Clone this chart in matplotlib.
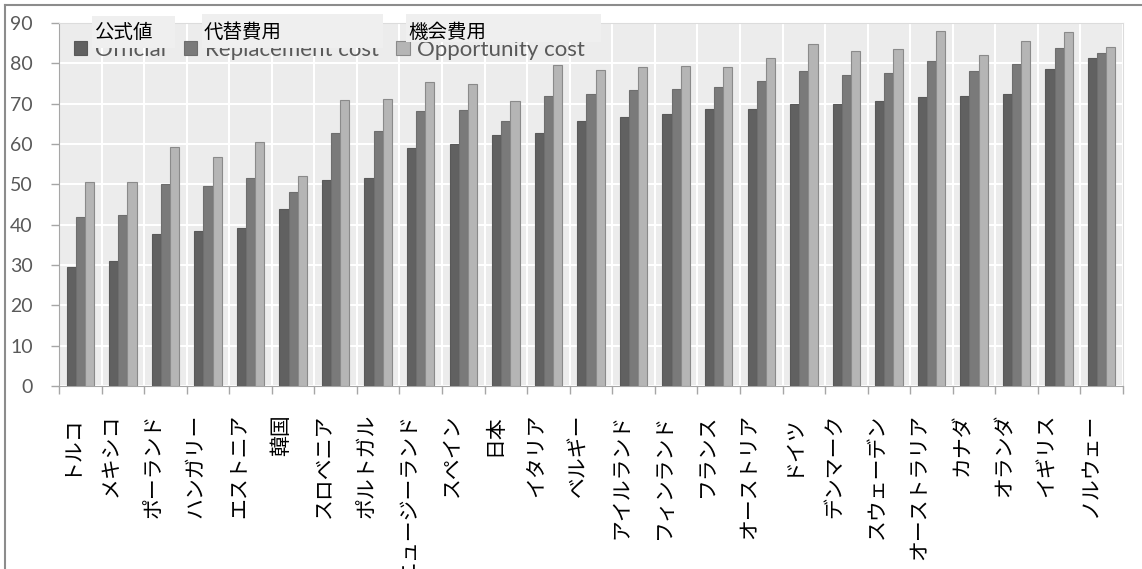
import numpy as np
import matplotlib.pyplot as plt
import matplotlib.transforms as mtransforms
from matplotlib.patches import Rectangle
from matplotlib.lines import Line2D

countries = ['トルコ', 'メキシコ', 'ポーランド', 'ハンガリー', 'エストニア', '韓国',
             'スロベニア', 'ポルトガル', 'ニュージーランド', 'スペイン', '日本', 'イタリア',
             'ベルギー', 'アイルランド', 'フィンランド', 'フランス', 'オーストリア', 'ドイツ',
             'デンマーク', 'スウェーデン', 'オーストラリア', 'カナダ', 'オランダ', 'イギリス',
             'ノルウェー']
official = [29.5, 31.1, 37.7, 38.4, 39.2, 43.8, 51.0, 51.5, 59.1, 60.1, 62.2, 62.8,
            65.8, 66.7, 67.4, 68.8, 68.8, 70.0, 70.0, 70.7, 71.7, 71.9, 72.5, 78.7, 81.2]
replacement = [41.9, 42.5, 50.1, 49.7, 51.5, 48.2, 62.8, 63.2, 68.2, 68.5, 65.8, 72.0,
               72.4, 73.4, 73.7, 74.1, 75.5, 78.2, 77.0, 77.6, 80.6, 78.0, 79.8, 83.8, 82.5]
opportunity = [50.6, 50.6, 59.2, 56.7, 60.4, 52.1, 70.8, 71.1, 75.4, 74.8, 70.7, 79.6,
               78.4, 79.0, 79.3, 79.0, 81.4, 84.7, 83.0, 83.5, 88.0, 82.1, 85.6, 87.7, 84.1]
series_en = ['Official', 'Replacement cost', 'Opportunity cost']
series_ja = ['公式値', '代替費用', '機会費用']

colors = ['#616161', '#7a7a7a', '#b5b5b5']
edges = ['#595959', '#6e6e6e', '#8a8a8a']

W, H = 1142, 569
fig = plt.figure(figsize=(W / 100, H / 100), dpi=100)

def fx(px):
    return px / W

def fy(py):
    return 1 - py / H

ax = fig.add_axes([fx(59), fy(386), fx(1123) - fx(59), fy(23) - fy(386)])
ax.set_facecolor('#ececec')

x = np.arange(len(countries))
w = 0.215
for k, vals in enumerate([official, replacement, opportunity]):
    ax.bar(x + (k - 1) * w, vals, width=w, color=colors[k], edgecolor=edges[k],
           linewidth=0.8, label=series_en[k], zorder=3)

ax.set_xlim(-0.5, len(countries) - 0.5)
ax.set_ylim(0, 90)
ax.set_yticks(np.arange(0, 91, 10))
ax.set_xticks(x)
ax.set_xticklabels(countries, rotation=90, fontsize=15, family=['Noto Sans CJK JP'])
ax.set_xticks(np.arange(-0.5, len(countries)), minor=True)
ax.tick_params(axis='x', which='major', length=0, pad=20)
ax.tick_params(axis='x', which='minor', length=6, color='#a6a6a6', width=1)
ax.tick_params(axis='y', length=6, color='#a6a6a6', width=1, labelsize=14,
               labelcolor='#595959', pad=13)
for lbl in ax.get_yticklabels():
    lbl.set_family('Lato')

# labels sit a little left of the group centre
offset = mtransforms.ScaledTranslation(-0.12, 0, fig.dpi_scale_trans)
for lbl in ax.get_xticklabels():
    lbl.set_transform(lbl.get_transform() + offset)

ax.grid(True, axis='y', color='white', lw=1.5)
ax.grid(True, axis='x', which='minor', color='white', lw=1.5)
ax.set_axisbelow(True)

for s in ['left', 'bottom']:
    ax.spines[s].set_color('#a6a6a6')
for s in ['top', 'right']:
    ax.spines[s].set_color('#dcdcdc')

leg = ax.legend(loc='center left', bbox_to_anchor=(fx(74), fy(50)),
                bbox_transform=fig.transFigure, ncol=3, frameon=False,
                prop={'family': 'Lato', 'size': 16}, handlelength=0.6,
                handleheight=0.6, handletextpad=0.34, columnspacing=0.8,
                borderpad=0, borderaxespad=0)
for t in leg.get_texts():
    t.set_color('#595959')

# Japanese labels pasted over the English legend
boxes = [(92, 175, 16, 48), (202, 383, 14, 48), (406, 601, 14, 42)]
for (x0, x1, y0, y1), lab in zip(boxes, series_ja):
    fig.add_artist(Rectangle((fx(x0), fy(y1)), fx(x1) - fx(x0), fy(y0) - fy(y1),
                             transform=fig.transFigure, facecolor='#efefef',
                             edgecolor='none', zorder=4))
    fig.text(fx(x0 + 2), fy(32), lab, fontsize=14, family=['Noto Sans CJK JP'],
             va='center', ha='left', color='black', zorder=5)

# outer frame (top and left only)
fig.add_artist(Line2D([fx(5), 1], [fy(4.5), fy(4.5)], transform=fig.transFigure,
                      color='#8c8c8c', lw=1.5))
fig.add_artist(Line2D([fx(5), fx(5)], [0, fy(4.5)], transform=fig.transFigure,
                      color='#8c8c8c', lw=1.5))

fig.savefig('out.png', dpi=100)
